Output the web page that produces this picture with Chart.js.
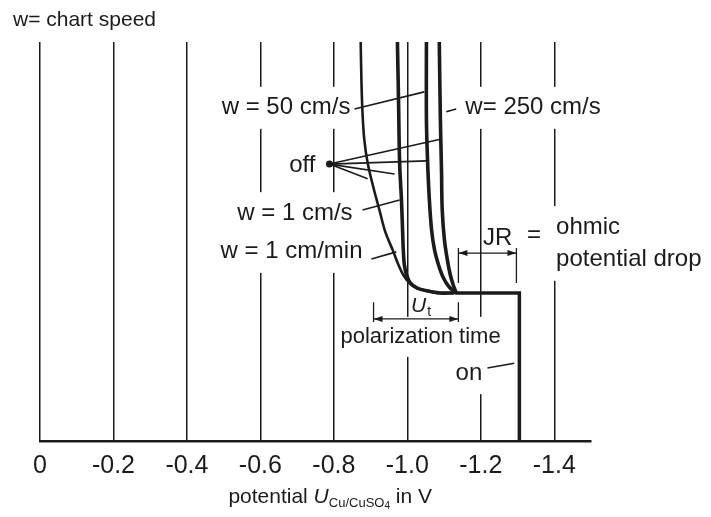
<!DOCTYPE html>
<html>
<head>
<meta charset="utf-8">
<script src="https://cdn.jsdelivr.net/npm/chart.js@4.4.1/dist/chart.umd.min.js"></script>
<style>
  html, body { margin: 0; padding: 0; background: #fff; }
  #wrap { width: 711px; height: 517px; }
</style>
</head>
<body>
<div id="wrap"><canvas id="chart" width="711" height="517"></canvas></div>
<script>
// potential axis (V vs Cu/CuSO4), drawn right-to-left
const xTickValues = [0, -0.2, -0.4, -0.6, -0.8, -1.0, -1.2, -1.4];
const xTickLabels = ["0", "-0.2", "-0.4", "-0.6", "-0.8", "-1.0", "-1.2", "-1.4"];

// time runs upward, arbitrary units 0..100
// current on: potential incl. ohmic drop, then switch-off jump
const onPotential = [-1.305, -1.305, -1.13];
const onTime      = [0, 37.1, 37.1];

// w = 1 cm/min
const slowPotential = [-1.128, -1.087, -1.055, -1.027, -1.006, -0.989, -0.976, -0.960, -0.940, -0.924, -0.908, -0.892, -0.883, -0.878, -0.875, -0.873];
const slowTime      = [37.1, 37.1, 37.6, 38.3, 39.6, 41.6, 44.1, 47.9, 52.4, 57.9, 63.4, 69.7, 75.4, 82.2, 90.5, 100];

// w = 1 cm/s
const w1Potential = [-1.128, -1.087, -1.055, -1.027, -1.008, -0.998, -0.992, -0.989, -0.987, -0.984, -0.979, -0.976, -0.973];
const w1Time      = [37.1, 37.1, 37.6, 38.3, 39.6, 41.6, 44.1, 47.9, 52.9, 60.4, 69.7, 85.5, 100];

// w = 50 cm/s
const w50Potential = [-1.133, -1.114, -1.098, -1.085, -1.074, -1.066, -1.060, -1.055, -1.052, -1.052];
const w50Time      = [37.1, 38.6, 40.9, 44.1, 47.9, 52.9, 60.4, 70.4, 80.5, 100];

// w = 250 cm/s
const w250Potential = [-1.133, -1.125, -1.117, -1.109, -1.101, -1.095, -1.093, -1.090, -1.087];
const w250Time      = [37.1, 39.1, 41.6, 45.4, 50.4, 57.9, 67.9, 80.5, 100];

const FONT = '"Liberation Sans", Arial, Helvetica, sans-serif';
const INK = "#1b1b1b";

function pts(xs, ys) {
  return xs.map((x, i) => ({ x: x, y: ys[i] }));
}

function trace(label, xs, ys, width, tension) {
  return {
    label: label,
    data: pts(xs, ys),
    borderColor: INK,
    borderWidth: width,
    pointRadius: 0,
    tension: tension,
    borderJoinStyle: "miter",
    fill: false,
  };
}

// text notes placed in data coordinates (V, time)
const notes = [
  { text: "w = 50 cm/s", v: -0.845, t: 83.5, align: "right", bg: true },
  { text: "w= 250 cm/s", v: -1.158, t: 83.5, align: "left", bg: true },
  { text: "off", v: -0.750, t: 69.2, align: "right", bg: true },
  { text: "w = 1 cm/s", v: -0.851, t: 57.1, align: "right", bg: true },
  { text: "w = 1 cm/min", v: -0.878, t: 47.4, align: "right", bg: true },
  { text: "JR", v: -1.246, t: 50.9, align: "center", bg: false },
  { text: "=", v: -1.345, t: 51.5, align: "center", bg: false },
  { text: "ohmic", v: -1.405, t: 53.6, align: "left", bg: true },
  { text: "potential drop", v: -1.405, t: 45.4, align: "left", bg: true },
  { text: "polarization time", v: -1.036, t: 26.1, align: "center", bg: true, size: 22 },
  { text: "on", v: -1.204, t: 17.0, align: "right", bg: true },
];

// pointer lines [v1, t1, v2, t2]
const leaders = [
  [-0.856, 83.2, -1.046, 87.5],
  [-1.106, 82.5, -1.133, 83.2],
  [-0.788, 69.4, -1.093, 75.7],
  [-0.788, 69.4, -1.052, 70.2],
  [-0.788, 69.4, -0.965, 66.9],
  [-0.788, 69.4, -0.892, 65.7],
  [-0.878, 57.9, -0.979, 60.4],
  [-0.902, 45.6, -0.970, 47.4],
  [-1.218, 18.3, -1.291, 19.5],
];

// dimension marks: from v1 to v2, arrow line at t, end ticks from tLo to tHi
const dims = [
  { v1: -0.908, v2: -1.139, t: 30.6, tLo: 29.8, tHi: 34.8 },
  { v1: -1.139, v2: -1.297, t: 47.1, tLo: 39.6, tHi: 48.4 },
];

const whiteBg = {
  id: "whiteBg",
  beforeDraw(chart) {
    const c = chart.ctx;
    c.save();
    c.fillStyle = "#fff";
    c.fillRect(0, 0, chart.width, chart.height);
    c.restore();
  },
};

function arrowHead(c, x, y, dir) {
  c.beginPath();
  c.moveTo(x, y);
  c.lineTo(x - dir * 9, y - 3);
  c.lineTo(x - dir * 9, y + 3);
  c.closePath();
  c.fill();
}

const notesPlugin = {
  id: "notes",
  beforeDatasetsDraw(chart) {
    const c = chart.ctx, sx = chart.scales.x, sy = chart.scales.y;
    c.save();
    c.textBaseline = "middle";
    // white boxes break the grid lines behind the labels
    notes.forEach((n) => {
      if (!n.bg) return;
      const size = n.size || 24;
      c.font = size + "px " + FONT;
      const w = c.measureText(n.text).width;
      const x = sx.getPixelForValue(n.v), y = sy.getPixelForValue(n.t);
      let x0 = x;
      if (n.align === "right") x0 = x - w;
      if (n.align === "center") x0 = x - w / 2;
      c.fillStyle = "#fff";
      c.fillRect(x0 - 5, y - size / 2 - 9, w + 10, size + 18);
    });
    c.fillStyle = INK;
    notes.forEach((n) => {
      const size = n.size || 24;
      c.font = size + "px " + FONT;
      c.textAlign = n.align;
      c.fillText(n.text, sx.getPixelForValue(n.v), sy.getPixelForValue(n.t));
    });

    // U_t label
    const ux = sx.getPixelForValue(-1.01), uy = sy.getPixelForValue(33.8);
    c.textAlign = "left";
    c.font = "italic 21px " + FONT;
    c.fillText("U", ux, uy);
    const uw = c.measureText("U").width;
    c.font = "14px " + FONT;
    c.fillText("t", ux + uw + 1, uy + 6);

    // header
    c.font = "21px " + FONT;
    c.fillText("w= chart speed", chart.chartArea.left - 27, chart.chartArea.top - 22);

    // axis title with subscript
    const parts = [
      { s: "potential ", f: "21px " + FONT, dy: 0 },
      { s: "U", f: "italic 21px " + FONT, dy: 0 },
      { s: "Cu/CuSO", f: "13px " + FONT, dy: 6 },
      { s: "4", f: "10px " + FONT, dy: 9 },
      { s: " in V", f: "21px " + FONT, dy: 0 },
    ];
    let total = 0;
    parts.forEach((p) => { c.font = p.f; p.w = c.measureText(p.s).width; total += p.w; });
    let tx = sx.getPixelForValue(-0.79) - total / 2;
    const ty = chart.chartArea.bottom + 56;
    parts.forEach((p) => {
      c.font = p.f;
      c.fillText(p.s, tx, ty + p.dy);
      tx += p.w;
    });
    c.restore();
  },
  afterDatasetsDraw(chart) {
    const c = chart.ctx, sx = chart.scales.x, sy = chart.scales.y;
    c.save();
    c.strokeStyle = INK;
    c.fillStyle = INK;
    c.lineWidth = 1.6;
    leaders.forEach((l) => {
      c.beginPath();
      c.moveTo(sx.getPixelForValue(l[0]), sy.getPixelForValue(l[1]));
      c.lineTo(sx.getPixelForValue(l[2]), sy.getPixelForValue(l[3]));
      c.stroke();
    });
    // dot where the "off" pointers meet
    c.beginPath();
    c.arc(sx.getPixelForValue(-0.788), sy.getPixelForValue(69.4), 3.5, 0, Math.PI * 2);
    c.fill();

    dims.forEach((d) => {
      const x1 = sx.getPixelForValue(d.v1), x2 = sx.getPixelForValue(d.v2);
      const y = sy.getPixelForValue(d.t);
      c.lineWidth = 1.3;
      c.beginPath();
      c.moveTo(x1, sy.getPixelForValue(d.tLo));
      c.lineTo(x1, sy.getPixelForValue(d.tHi));
      c.moveTo(x2, sy.getPixelForValue(d.tLo));
      c.lineTo(x2, sy.getPixelForValue(d.tHi));
      c.moveTo(x1, y);
      c.lineTo(x2, y);
      c.stroke();
      arrowHead(c, x1, y, -1);
      arrowHead(c, x2, y, 1);
    });
    c.restore();
  },
};

new Chart(document.getElementById("chart"), {
  type: "line",
  data: {
    datasets: [
      trace("on", onPotential, onTime, 3.5, 0),
      trace("w = 1 cm/min", slowPotential, slowTime, 2.6, 0.35),
      trace("w = 1 cm/s", w1Potential, w1Time, 3.6, 0.35),
      trace("w = 50 cm/s", w50Potential, w50Time, 3.6, 0.35),
      trace("w = 250 cm/s", w250Potential, w250Time, 3.6, 0.35),
    ],
  },
  options: {
    responsive: false,
    animation: false,
    layout: { padding: { left: 40, right: 120, top: 42, bottom: 0 } },
    plugins: {
      legend: { display: false },
      tooltip: { enabled: false },
    },
    scales: {
      x: {
        type: "linear",
        reverse: true,
        min: -1.5,
        max: 0,
        afterBuildTicks: (s) => { s.ticks = xTickValues.map((v) => ({ value: v })); },
        afterFit: (s) => { s.height = 76; },
        ticks: {
          font: { family: FONT, size: 25 },
          color: INK,
          padding: 10,
          maxRotation: 0,
          autoSkip: false,
          callback: (v, i) => xTickLabels[i],
        },
        grid: { color: INK, lineWidth: 1.5, drawTicks: false },
        border: { display: true, color: INK, width: 2.5 },
      },
      y: { type: "linear", display: false, min: 0, max: 100 },
    },
  },
  plugins: [whiteBg, notesPlugin],
});
</script>
</body>
</html>
